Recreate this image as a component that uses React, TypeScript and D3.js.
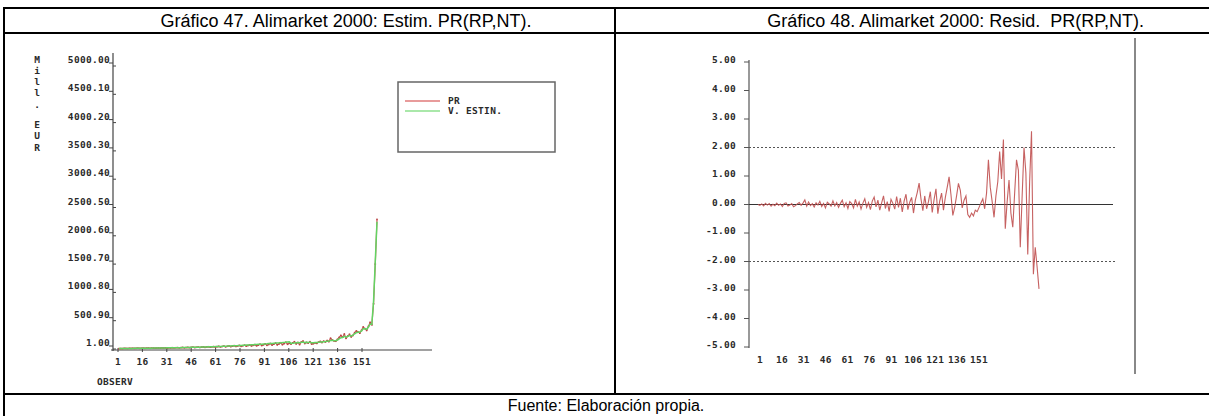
import React from 'react';
import * as d3 from 'd3';

const obsTicks = [1, 16, 31, 46, 61, 76, 91, 106, 121, 136, 151];
const leftYTicks = [5000.0, 4500.1, 4000.2, 3500.3, 3000.4, 2500.5, 2000.6, 1500.7, 1000.8, 500.9, 1.0];
const rightYTicks = [5, 4, 3, 2, 1, 0, -1, -2, -3, -4, -5];
const yTitle = ['M', 'i', 'l', 'l', '.', 'E', 'U', 'R'];
const yTitlePos = [60, 71, 82, 93, 105, 125, 136, 148];

const pr = [
  8, 10, 9, 12, 11, 10, 13, 12, 14, 11, 13, 15, 12, 14, 16, 13, 15, 17, 14, 16,
  18, 15, 17, 19, 16, 20, 18, 21, 17, 22, 19, 24, 20, 23, 26, 21, 25, 28, 22, 27,
  30, 25, 29, 33, 27, 31, 35, 28, 34, 38, 30, 36, 41, 33, 39, 44, 35, 42, 48, 38,
  45, 52, 40, 49, 56, 43, 51, 60, 46, 55, 64, 48, 58, 68, 52, 62, 72, 55, 66, 78,
  58, 70, 85, 62, 75, 92, 66, 80, 98, 70, 86, 105, 74, 90, 112, 78, 96, 120, 84, 102,
  88, 110, 130, 92, 115, 80, 124, 140, 98, 118, 105, 130, 88, 95, 110, 100, 122, 135, 115, 140,
  125, 150, 132, 190, 160, 145, 138, 170, 205, 240, 210, 265, 190, 230, 260, 215, 240, 290, 320, 300,
  280, 330, 390, 360, 330, 400, 470, 430, 800, 1500, 2290,
];

const estim = [
  9, 9, 10, 10, 11, 11, 12, 12, 12, 13, 13, 13, 14, 14, 14, 15, 15, 15, 16, 16,
  17, 17, 18, 18, 19, 19, 20, 20, 21, 21, 22, 22, 23, 24, 24, 25, 25, 26, 27, 27,
  28, 29, 30, 30, 31, 32, 33, 34, 35, 36, 37, 38, 39, 40, 41, 42, 43, 45, 46, 47,
  48, 50, 51, 52, 54, 55, 57, 58, 60, 61, 63, 64, 66, 68, 70, 71, 73, 75, 77, 79,
  81, 83, 85, 87, 89, 91, 93, 96, 98, 100, 103, 105, 108, 110, 113, 115, 118, 121, 124, 127,
  100, 104, 108, 112, 116, 110, 118, 124, 114, 120, 118, 122, 112, 110, 115, 116, 120, 126, 124, 130,
  132, 138, 140, 150, 155, 150, 148, 160, 180, 200, 205, 225, 210, 225, 240, 230, 245, 270, 290, 295,
  300, 320, 360, 360, 350, 390, 440, 440, 850, 1550, 2250,
];

const resid = [
  0.0, -0.03, 0.02, -0.05, 0.04, -0.02, 0.03, -0.06, 0.01, -0.04,
  0.05, -0.03, 0.02, -0.07, 0.04, 0.06, -0.05, -0.02, 0.03, -0.08,
  -0.04, 0.02, 0.07, -0.03, 0.05, 0.16, -0.06, 0.09, -0.04, 0.03,
  -0.09, 0.06, -0.02, 0.11, -0.07, 0.04, -0.12, 0.08, 0.02, -0.06,
  0.13, -0.05, 0.07, -0.1, 0.04, 0.15, -0.08, 0.06, -0.14, 0.1,
  0.03, -0.12, 0.18, -0.06, 0.09, -0.16, 0.05, 0.2, -0.1, 0.07,
  -0.18, 0.12, 0.26, -0.08, 0.15, -0.2, 0.06, 0.3, -0.14, 0.1,
  -0.24, 0.18, 0.04, -0.16, 0.28, -0.1, 0.22, -0.26, 0.12, 0.36,
  -0.18, 0.08, 0.25, -0.3, 0.15, 0.42, 0.75, 0.2, -0.22, 0.3,
  -0.15, 0.1, 0.45, -0.28, 0.18, 0.55, -0.32, 0.12, 0.4, -0.2,
  0.25, 0.6, 0.97, 0.35, -0.38, -0.1, 0.3, 0.74, 0.5, -0.12,
  0.15, 0.3, -0.35, -0.45, -0.3, -0.4, -0.2, -0.25, -0.1, 0.05,
  0.2, -0.15, 0.4, 1.57, 0.6, 0.1, -0.45, 0.3, 0.8, 1.86,
  0.9, 2.28, -0.85, 0.1, 0.86, -0.3, -0.8, 0.4, 1.57, 1.2,
  -1.5, 0.3, 2.0, 1.1, -1.75, 0.8, 2.57, -2.45, -1.5, -2.2,
  -2.96,
];

const MONO = '"DejaVu Sans Mono", monospace';
const SANS = '"Liberation Sans", Arial, sans-serif';

export default function App() {
  // data scales
  const xL = d3.scaleLinear().domain([1, pr.length]).range([119, 377]);
  const yL = d3.scaleLinear().domain([1, 5000]).range([349, 66]);
  const xR = d3.scaleLinear().domain([1, resid.length]).range([758, 1039]);
  const yR = d3.scaleLinear().domain([-5, 5]).range([347, 62]);
  // label scales (the plotting program spaces its OBSERV labels evenly)
  const lblL = d3.scalePoint<number>().domain(obsTicks).range([118, 362]);
  const lblR = d3.scalePoint<number>().domain(obsTicks).range([760, 979]);

  const lineL = d3.line<number>().x((_, i) => xL(i + 1)).y((d) => yL(d));
  const lineR = d3.line<number>().x((_, i) => xR(i + 1)).y((d) => yR(d));

  const axL = 113;
  const axR = 749;
  const lab = { fontFamily: MONO, fontSize: 9.5, fontWeight: 700, letterSpacing: 0.3, fill: '#2a2a2a' } as const;

  return (
    <svg width={1209} height={416} style={{ position: 'absolute', left: 0, top: 0, background: '#fff' }}>
      {/* table */}
      <g stroke="#000" strokeWidth={2}>
        <line x1={4} y1={8} x2={1209} y2={8} />
        <line x1={4} y1={33} x2={1209} y2={33} />
        <line x1={4} y1={394} x2={1209} y2={394} />
        <line x1={4} y1={7} x2={4} y2={416} />
        <line x1={615} y1={7} x2={615} y2={394} />
      </g>
      <text x={346} y={27} textAnchor="middle" fontFamily={SANS} fontSize={18}>
        Gráfico 47. Alimarket 2000: Estim. PR(RP,NT).
      </text>
      <text x={1144} y={27} textAnchor="end" fontFamily={SANS} fontSize={18} style={{ whiteSpace: 'pre' }}>
        {'Gráfico 48. Alimarket 2000: Resid.  PR(RP,NT).'}
      </text>
      <text x={606} y={411} textAnchor="middle" fontFamily={SANS} fontSize={16}>
        Fuente: Elaboración propia.
      </text>

      {/* LEFT CHART */}
      {yTitle.map((c, i) => (
        <text key={'yt' + i} x={37} y={yTitlePos[i] + 3} textAnchor="middle" {...lab} letterSpacing={0}>
          {c}
        </text>
      ))}
      <line x1={axL} y1={53} x2={axL} y2={351} stroke="#444" strokeWidth={1.2} />
      <line x1={axL - 2} y1={350} x2={432} y2={350} stroke="#444" strokeWidth={1.2} />
      {leftYTicks.map((v) => (
        <g key={'ly' + v}>
          <text x={110} y={yL(v) - 3} textAnchor="end" {...lab}>
            {v.toFixed(2)}
          </text>
          <line x1={109} y1={yL(v) - 3} x2={axL} y2={yL(v) - 3} stroke="#444" strokeWidth={1} />
          <line x1={axL} y1={yL(v)} x2={axL + 3} y2={yL(v)} stroke="#444" strokeWidth={1} />
        </g>
      ))}
      {obsTicks.map((t) => (
        <g key={'lx' + t}>
          <line x1={lblL(t)} y1={348} x2={lblL(t)} y2={352} stroke="#444" strokeWidth={1} />
          <text x={lblL(t)} y={365} textAnchor="middle" {...lab}>
            {t}
          </text>
        </g>
      ))}
      <text x={97} y={385} {...lab}>
        OBSERV
      </text>
      <path d={lineL(pr) || ''} fill="none" stroke="#cf5a5a" strokeWidth={1.2} />
      {pr.map((d, i) => (
        <rect key={'pd' + i} x={xL(i + 1) - 0.8} y={yL(d) - 0.8} width={1.6} height={1.6} fill="#b84444" />
      ))}
      <path d={lineL(estim) || ''} fill="none" stroke="#62d462" strokeWidth={1.5} />

      {/* legend */}
      <rect x={398} y={82} width={157} height={70} fill="#fff" stroke="#666" strokeWidth={1.5} />
      <line x1={405} y1={101} x2={440} y2={101} stroke="#e07a7a" strokeWidth={1.5} />
      <line x1={405} y1={111} x2={440} y2={111} stroke="#8ee08e" strokeWidth={1.5} />
      <text x={448} y={104} {...lab}>
        PR
      </text>
      <text x={448} y={114} {...lab} style={{ whiteSpace: 'pre' }}>
        {'V. ESTIN.'}
      </text>

      {/* RIGHT CHART */}
      <line x1={axR} y1={60} x2={axR} y2={348} stroke="#555" strokeWidth={1.2} />
      {rightYTicks.map((v) => (
        <g key={'ry' + v}>
          <text x={736} y={yR(v) + 1} textAnchor="end" {...lab}>
            {v.toFixed(2)}
          </text>
          <line x1={axR - 5} y1={yR(v)} x2={axR} y2={yR(v)} stroke="#555" strokeWidth={1} />
        </g>
      ))}
      <line x1={axR} y1={yR(2)} x2={1115} y2={yR(2)} stroke="#555" strokeWidth={1} strokeDasharray="2,2" />
      <line x1={axR} y1={yR(-2)} x2={1115} y2={yR(-2)} stroke="#555" strokeWidth={1} strokeDasharray="2,2" />
      <line x1={axR} y1={yR(0)} x2={1113} y2={yR(0)} stroke="#333" strokeWidth={1} />
      {obsTicks.map((t) => (
        <text key={'rx' + t} x={lblR(t)} y={363} textAnchor="middle" {...lab}>
          {t}
        </text>
      ))}
      <path d={lineR(resid) || ''} fill="none" stroke="#c05050" strokeWidth={1.1} strokeOpacity={0.9} />
      <line x1={1135} y1={38} x2={1135} y2={374} stroke="#888" strokeWidth={2} />
    </svg>
  );
}
